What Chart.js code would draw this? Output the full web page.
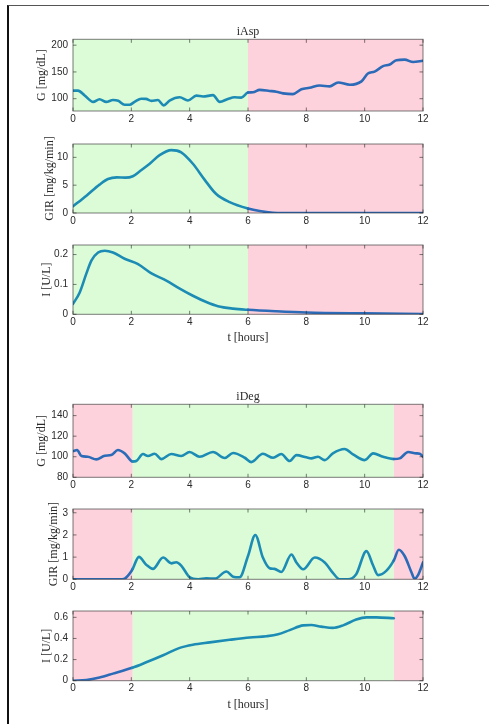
<!DOCTYPE html>
<html>
<head>
<meta charset="utf-8">
<script src="https://cdn.jsdelivr.net/npm/chart.js@4"></script>
<style>
  html, body { margin: 0; padding: 0; background: #fff; width: 489px; height: 724px; overflow: hidden; position: relative; }
  #frame { position: absolute; left: 7px; top: 5px; width: 482px; height: 719px; border-top: 1.5px solid #555; border-left: 2px solid #111; box-sizing: border-box; }
  canvas { position: absolute; left: 0; }
</style>
</head>
<body>
<div id="frame"></div>
<script>
// ---- time axis ----
const hourTicks = [0, 2, 4, 6, 8, 10, 12];

// ---- iAsp: phase boundaries (hours) and phase type ----
const aspBreaks = [0, 6, 12];
const aspPhases = ['on', 'off'];

// iAsp glucose [mg/dL]
const aspGlucoseT = [0, 0.17, 0.4, 0.69, 0.91, 1.14, 1.37, 1.55, 1.77, 1.94, 2.11, 2.34, 2.5, 2.69, 2.91, 3.11, 3.31, 3.66, 3.94, 4.23, 4.46, 4.8, 5.03, 5.31, 5.54, 5.77, 6.0, 6.17, 6.4, 6.74, 6.97, 7.2, 7.54, 7.83, 8.11, 8.46, 8.8, 9.09, 9.49, 9.89, 10.11, 10.34, 10.63, 10.86, 11.09, 11.37, 11.66, 12];
const aspGlucose  = [115, 115, 106, 94, 99, 94, 97.5, 96, 88.6, 88.6, 94, 100, 99.7, 96, 97.5, 87.5, 96.5, 102.6, 96.5, 105.7, 104, 106.6, 94, 99.5, 102.6, 102, 111.4, 112, 116.5, 114.5, 113, 110, 108.5, 117.6, 120.3, 124.7, 123, 130.4, 126, 132.3, 147, 150.6, 160.8, 164, 172, 173, 168.5, 171];

// iAsp glucose infusion rate [mg/kg/min]
const aspGirT = [0, 0.46, 0.91, 1.2, 1.5, 1.8, 2.05, 2.29, 2.63, 2.97, 3.37, 3.71, 4.11, 4.51, 4.91, 5.37, 6.0, 6.4, 6.86, 7.2, 8, 10, 12];
const aspGir  = [1.2, 3.1, 5.1, 6.1, 6.4, 6.35, 6.6, 7.5, 8.85, 10.4, 11.3, 10.9, 8.85, 6.0, 3.4, 1.95, 0.8, 0.35, 0.05, 0, 0, 0, 0];

// iAsp insulin [U/L]
const aspInsT = [0, 0.23, 0.46, 0.63, 0.86, 1.09, 1.37, 1.77, 2.23, 2.69, 3.2, 3.66, 4.11, 4.57, 4.97, 5.49, 6.0, 6.97, 8, 10, 12];
const aspIns  = [0.035, 0.073, 0.137, 0.18, 0.207, 0.213, 0.207, 0.186, 0.168, 0.137, 0.113, 0.086, 0.062, 0.041, 0.027, 0.019, 0.015, 0.01, 0.006, 0.003, 0.001];

// ---- iDeg: phase boundaries (hours) and phase type ----
const degBreaks = [0, 2.05, 11, 12];
const degPhases = ['off', 'on', 'off'];

// iDeg glucose [mg/dL]
const degGlucoseT = [0, 0.14, 0.29, 0.51, 0.8, 1.09, 1.31, 1.54, 1.77, 2.05, 2.17, 2.4, 2.57, 2.8, 3.03, 3.37, 3.71, 4.0, 4.34, 4.8, 5.2, 5.49, 5.89, 6.11, 6.51, 6.86, 7.14, 7.43, 7.66, 8.0, 8.17, 8.4, 8.63, 8.91, 9.31, 9.6, 10.0, 10.29, 10.63, 11.0, 11.2, 11.49, 11.77, 11.89, 12];
const degGlucose  = [105.5, 106.5, 100.7, 100, 97.4, 101, 101.6, 106.5, 103.3, 95.3, 95.8, 102.6, 100.7, 102.9, 97.7, 102.6, 100.7, 104.6, 100, 104.6, 98.7, 103.6, 99, 94.8, 102.9, 99, 102.6, 95.8, 101.6, 99.4, 98.4, 100, 96.7, 103.3, 107.5, 102.3, 96.7, 103.3, 100, 97.8, 98.4, 104.6, 103.3, 103, 100];

// iDeg glucose infusion rate [mg/kg/min]
const degGirT = [0, 1.0, 1.6, 1.77, 2.0, 2.05, 2.26, 2.51, 2.74, 3.09, 3.37, 3.54, 3.71, 4.0, 4.29, 4.57, 4.86, 5.26, 5.49, 5.71, 6.0, 6.25, 6.51, 6.74, 6.91, 7.14, 7.49, 7.66, 7.89, 8.29, 8.63, 8.91, 9.14, 9.43, 9.71, 10.06, 10.29, 10.46, 10.74, 11.0, 11.17, 11.37, 11.6, 11.71, 11.83, 12];
const degGir  = [0, 0, 0, 0.03, 0.36, 0.48, 1.01, 0.66, 0.47, 0.98, 0.72, 0.77, 0.62, 0.09, 0, 0.04, 0.03, 0.35, 0.12, 0.09, 1.05, 2.0, 0.98, 0.5, 0.47, 0.33, 1.12, 0.76, 0.45, 0.98, 0.76, 0.29, 0, 0, 0.23, 1.27, 0.62, 0.19, 0.38, 0.85, 1.33, 1.05, 0.33, 0.03, 0.19, 0.76];

// iDeg insulin [U/L]
const degInsT = [0, 0.46, 0.91, 1.37, 2.03, 2.51, 3.09, 3.66, 4.11, 4.69, 5.37, 6.06, 6.63, 7.03, 7.43, 7.89, 8.17, 8.51, 8.91, 9.26, 9.71, 10.06, 10.4, 11.0];
const degIns  = [0, 0.006, 0.03, 0.067, 0.122, 0.174, 0.241, 0.311, 0.341, 0.363, 0.387, 0.409, 0.421, 0.439, 0.479, 0.524, 0.527, 0.512, 0.5, 0.524, 0.579, 0.6, 0.6, 0.591];

// ---- y-axis limits and tick values ----
const gAspLimits = [77, 211],   gAspTicks = [100, 150, 200];
const girAspLimits = [0, 12.4], girAspTicks = [0, 5, 10];
const insAspLimits = [0, 0.232], insAspTicks = [0, 0.1, 0.2];
const gDegLimits = [80, 151],   gDegTicks = [80, 100, 120, 140];
const girDegLimits = [0, 3.17], girDegTicks = [0, 1, 2, 3];
const insDegLimits = [0, 0.66], insDegTicks = [0, 0.2, 0.4, 0.6];

// ---- styling ----
const PHASE_FILL = { on: '#dcfcd8', off: '#fdd2dc' };
const LINE_ON = '#1c8cb5';
const LINE_OFF = '#2c6bb8';
const AXIS_INK = 'rgba(38,38,38,0.6)';
const TEXT_INK = '#2a2a2a';
const SERIF = 'Liberation Serif';
const SANS = 'Liberation Sans';

function phaseAt(breaks, phases, t) {
  for (let i = 0; i < phases.length; i++) {
    if (t >= breaks[i] && t <= breaks[i + 1]) return phases[i];
  }
  return phases[phases.length - 1];
}

// Shaded treatment phases under the trace, plus a box with inward ticks on top.
const phasePlugin = {
  id: 'phases',
  beforeDatasetsDraw(chart, args, opts) {
    const { ctx, chartArea: a, scales: { x } } = chart;
    ctx.save();
    for (let i = 0; i < opts.phases.length; i++) {
      const x0 = x.getPixelForValue(opts.breaks[i]);
      const x1 = x.getPixelForValue(opts.breaks[i + 1]);
      ctx.fillStyle = PHASE_FILL[opts.phases[i]];
      ctx.fillRect(x0, a.top, x1 - x0, a.bottom - a.top);
    }
    ctx.restore();
  },
  afterDatasetsDraw(chart) {
    const { ctx, chartArea: a, scales: { x, y } } = chart;
    const len = 3.5;
    ctx.save();
    ctx.strokeStyle = AXIS_INK;
    ctx.lineWidth = 1;
    ctx.strokeRect(a.left, a.top, a.right - a.left, a.bottom - a.top);
    ctx.beginPath();
    x.ticks.forEach(t => {
      const px = x.getPixelForValue(t.value);
      ctx.moveTo(px, a.bottom); ctx.lineTo(px, a.bottom - len);
      ctx.moveTo(px, a.top);    ctx.lineTo(px, a.top + len);
    });
    y.ticks.forEach(t => {
      const py = y.getPixelForValue(t.value);
      ctx.moveTo(a.left, py);  ctx.lineTo(a.left + len, py);
      ctx.moveTo(a.right, py); ctx.lineTo(a.right - len, py);
    });
    ctx.stroke();
    ctx.restore();
  }
};

// ---- panel layout (page pixels) ----
const panels = [
  { t: aspGlucoseT, v: aspGlucose, breaks: aspBreaks, phases: aspPhases, lim: gAspLimits, ticks: gAspTicks,
    yLabel: 'G [mg/dL]', title: 'iAsp', titleY: 31.5, top: 39.3, bottom: 111, labelX: 42 },
  { t: aspGirT, v: aspGir, breaks: aspBreaks, phases: aspPhases, lim: girAspLimits, ticks: girAspTicks,
    yLabel: 'GIR [mg/kg/min]', top: 141, bottom: 213, labelX: 50 },
  { t: aspInsT, v: aspIns, breaks: aspBreaks, phases: aspPhases, lim: insAspLimits, ticks: insAspTicks,
    yLabel: 'I [U/L]', xLabel: 't [hours]', top: 242.3, bottom: 314.3, labelX: 47 },
  { t: degGlucoseT, v: degGlucose, breaks: degBreaks, phases: degPhases, lim: gDegLimits, ticks: gDegTicks,
    yLabel: 'G [mg/dL]', title: 'iDeg', titleY: 396.5, top: 404.3, bottom: 477.3, labelX: 42 },
  { t: degGirT, v: degGir, breaks: degBreaks, phases: degPhases, lim: girDegLimits, ticks: girDegTicks,
    yLabel: 'GIR [mg/kg/min]', top: 506, bottom: 579.3, labelX: 54 },
  { t: degInsT, v: degIns, breaks: degBreaks, phases: degPhases, lim: insDegLimits, ticks: insDegTicks,
    yLabel: 'I [U/L]', xLabel: 't [hours]', top: 608.3, bottom: 680.7, labelX: 47 }
];

const PLOT_LEFT = 73, PLOT_RIGHT = 423, CANVAS_W = 460;
const TITLE_LH = 14.4;

panels.forEach(p => {
  const hasTitle = !!p.title;
  const hasX = !!p.xLabel;
  const xAxisH = hasX ? 34 : 18;
  const ct = Math.floor(hasTitle ? p.titleY - 14 : p.top - 8);
  const ch = Math.ceil(p.bottom - ct + xAxisH);
  const canvas = document.createElement('canvas');
  canvas.width = CANVAS_W;
  canvas.height = ch;
  canvas.style.top = ct + 'px';
  canvas.style.width = CANVAS_W + 'px';
  canvas.style.height = ch + 'px';
  document.body.appendChild(canvas);

  const titlePadTop = hasTitle ? p.titleY - ct - TITLE_LH / 2 : 0;
  const titlePadBottom = hasTitle ? p.top - ct - titlePadTop - TITLE_LH : 0;
  const padTop = hasTitle ? 0 : p.top - ct;
  const padBottom = ct + ch - xAxisH - p.bottom;

  new Chart(canvas, {
    type: 'line',
    data: {
      datasets: [{
        data: p.t.map((t, i) => ({ x: t, y: p.v[i] })),
        borderColor: LINE_ON,
        borderWidth: 2.6,
        pointRadius: 0,
        fill: false,
        cubicInterpolationMode: 'monotone',
        borderCapStyle: 'round',
        borderJoinStyle: 'round',
        segment: {
          borderColor: c => phaseAt(p.breaks, p.phases, (c.p0.parsed.x + c.p1.parsed.x) / 2) === 'on' ? LINE_ON : LINE_OFF
        }
      }]
    },
    options: {
      responsive: false,
      animation: false,
      events: [],
      layout: { padding: { left: 0, right: CANVAS_W - PLOT_RIGHT, top: padTop, bottom: padBottom } },
      plugins: {
        legend: { display: false },
        tooltip: { enabled: false },
        title: {
          display: hasTitle,
          text: p.title || '',
          fullSize: false,
          color: TEXT_INK,
          font: { family: SERIF, size: 12, weight: 'normal', lineHeight: 1.2 },
          padding: { top: titlePadTop, bottom: titlePadBottom }
        },
        phases: { breaks: p.breaks, phases: p.phases }
      },
      scales: {
        x: {
          type: 'linear',
          min: 0,
          max: 12,
          grid: { display: false, drawTicks: false, tickLength: 0 },
          border: { display: false },
          afterBuildTicks: s => { s.ticks = hourTicks.map(v => ({ value: v })); },
          afterFit: s => { s.height = xAxisH; },
          ticks: { color: TEXT_INK, font: { family: SANS, size: 10 }, padding: 2, maxRotation: 0, autoSkip: false },
          title: {
            display: hasX,
            text: p.xLabel || '',
            color: TEXT_INK,
            font: { family: SERIF, size: 12, weight: 'normal', lineHeight: 1.2 },
            padding: { top: 0, bottom: 3 }
          }
        },
        y: {
          type: 'linear',
          min: p.lim[0],
          max: p.lim[1],
          grid: { display: false, drawTicks: false, tickLength: 0 },
          border: { display: false },
          afterBuildTicks: s => { s.ticks = p.ticks.map(v => ({ value: v })); },
          afterFit: s => { s.width = PLOT_LEFT; },
          ticks: {
            color: TEXT_INK,
            font: { family: SANS, size: 10 },
            padding: 5,
            callback: v => String(+v.toFixed(2))
          },
          title: {
            display: true,
            text: p.yLabel,
            color: TEXT_INK,
            font: { family: SERIF, size: 12, weight: 'normal', lineHeight: 1.2 },
            padding: { top: p.labelX - TITLE_LH / 2, bottom: 0 }
          }
        }
      }
    },
    plugins: [phasePlugin]
  });
});
</script>
</body>
</html>
